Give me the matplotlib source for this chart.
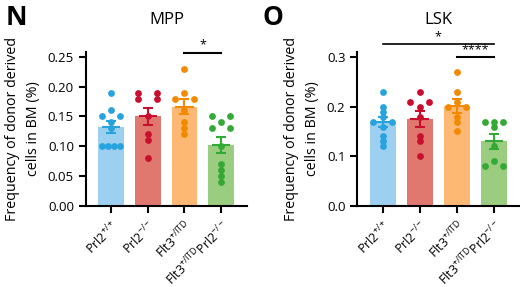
import matplotlib.pyplot as plt
import numpy as np

plt.rcParams['font.family'] = ['Open Sans', 'DejaVu Sans']
plt.rcParams['mathtext.fontset'] = 'custom'
plt.rcParams['mathtext.rm'] = 'Open Sans'
plt.rcParams['mathtext.it'] = 'Open Sans'

groups = ['Prl2$^{+/+}$', 'Prl2$^{-/-}$', 'Flt3$^{+/ITD}$', 'Flt3$^{+/ITD}$Prl2$^{-/-}$']

mpp_wt = [0.19, 0.16, 0.15, 0.15, 0.14, 0.13, 0.10, 0.10, 0.10, 0.10]
mpp_ko = [0.19, 0.19, 0.18, 0.18, 0.15, 0.12, 0.11, 0.08]
mpp_itd = [0.23, 0.19, 0.18, 0.18, 0.16, 0.14, 0.13, 0.12]
mpp_itd_ko = [0.15, 0.15, 0.14, 0.13, 0.13, 0.10, 0.07, 0.06, 0.05, 0.04]

lsk_wt = [0.23, 0.20, 0.19, 0.18, 0.17, 0.17, 0.16, 0.14, 0.13, 0.12]
lsk_ko = [0.23, 0.21, 0.21, 0.20, 0.18, 0.14, 0.13, 0.10]
lsk_itd = [0.27, 0.23, 0.21, 0.20, 0.20, 0.18, 0.17, 0.15]
lsk_itd_ko = [0.17, 0.17, 0.17, 0.16, 0.12, 0.09, 0.08, 0.08]

bar_colors = ['#9dcff0', '#e0786f', '#fdb873', '#9bcd80']
dot_colors = ['#29a3dd', '#c8102e', '#f18a00', '#35a935']


def spread(vals):
    # spread equal values sideways, like a beeswarm
    vals = np.array(vals)
    offs = np.zeros(len(vals))
    for v in np.unique(vals):
        idx = np.where(np.isclose(vals, v))[0]
        n = len(idx)
        if n > 1:
            offs[idx] = np.linspace(-0.25, 0.25, n)
    return offs


def panel(ax, data, ylim, yticks, fmt, title):
    for i, vals in enumerate(data):
        vals = np.array(vals)
        m = vals.mean()
        se = vals.std(ddof=1) / np.sqrt(len(vals))
        ax.bar(i, m, width=0.7, color=bar_colors[i], zorder=1)
        ax.scatter(i + spread(vals), vals, s=24, color=dot_colors[i], zorder=3, linewidths=0)
        ax.errorbar(i, m, yerr=se, color=dot_colors[i], capsize=3.5, lw=1.5, capthick=1.5, zorder=4)
        ax.plot([i - 0.22, i + 0.22], [m, m], color=dot_colors[i], lw=1.5, zorder=4)
    ax.set_xlim(-0.68, 3.7)
    ax.set_ylim(*ylim)
    ax.set_yticks(yticks)
    ax.set_yticklabels([fmt.format(t) for t in yticks], fontsize=9.5)
    ax.set_xticks(range(4))
    ax.set_xticklabels(groups, rotation=45, ha='right', rotation_mode='anchor', fontsize=9)
    ax.spines['top'].set_visible(False)
    ax.spines['right'].set_visible(False)
    ax.spines['left'].set_linewidth(1.5)
    ax.spines['bottom'].set_linewidth(1.5)
    ax.tick_params(width=1.5, length=5)
    ax.set_ylabel('Frequency of donor derived\ncells in BM (%)', fontsize=10.3, labelpad=5,
                  linespacing=1.55)
    ax.set_title(title, fontsize=12, pad=20)


fig = plt.figure(figsize=(5.2, 2.87), dpi=100)
ax1 = fig.add_axes([0.165, 0.282, 0.31, 0.537])
ax2 = fig.add_axes([0.687, 0.282, 0.313, 0.537])

panel(ax1, [mpp_wt, mpp_ko, mpp_itd, mpp_itd_ko], (0, 0.258), [0, 0.05, 0.10, 0.15, 0.20, 0.25], '{:.2f}', 'MPP')
panel(ax2, [lsk_wt, lsk_ko, lsk_itd, lsk_itd_ko], (0, 0.31), [0, 0.1, 0.2, 0.3], '{:.1f}', 'LSK')

# significance bars
ax1.plot([2, 3], [0.257, 0.257], color='black', lw=1.5, clip_on=False)
ax1.text(2.5, 0.259, '*', ha='center', va='bottom', fontsize=9)
ax2.plot([0, 3], [0.326, 0.326], color='black', lw=1.2, clip_on=False)
ax2.text(1.5, 0.328, '*', ha='center', va='bottom', fontsize=9)
ax2.plot([2, 3], [0.300, 0.300], color='black', lw=1.5, clip_on=False)
ax2.text(2.5, 0.302, '****', ha='center', va='bottom', fontsize=9)

fig.text(0.01, 0.985, 'N', fontsize=19, fontweight='bold', va='top')
fig.text(0.505, 0.985, 'O', fontsize=19, fontweight='bold', va='top')

fig.savefig('out.png', dpi=100)
